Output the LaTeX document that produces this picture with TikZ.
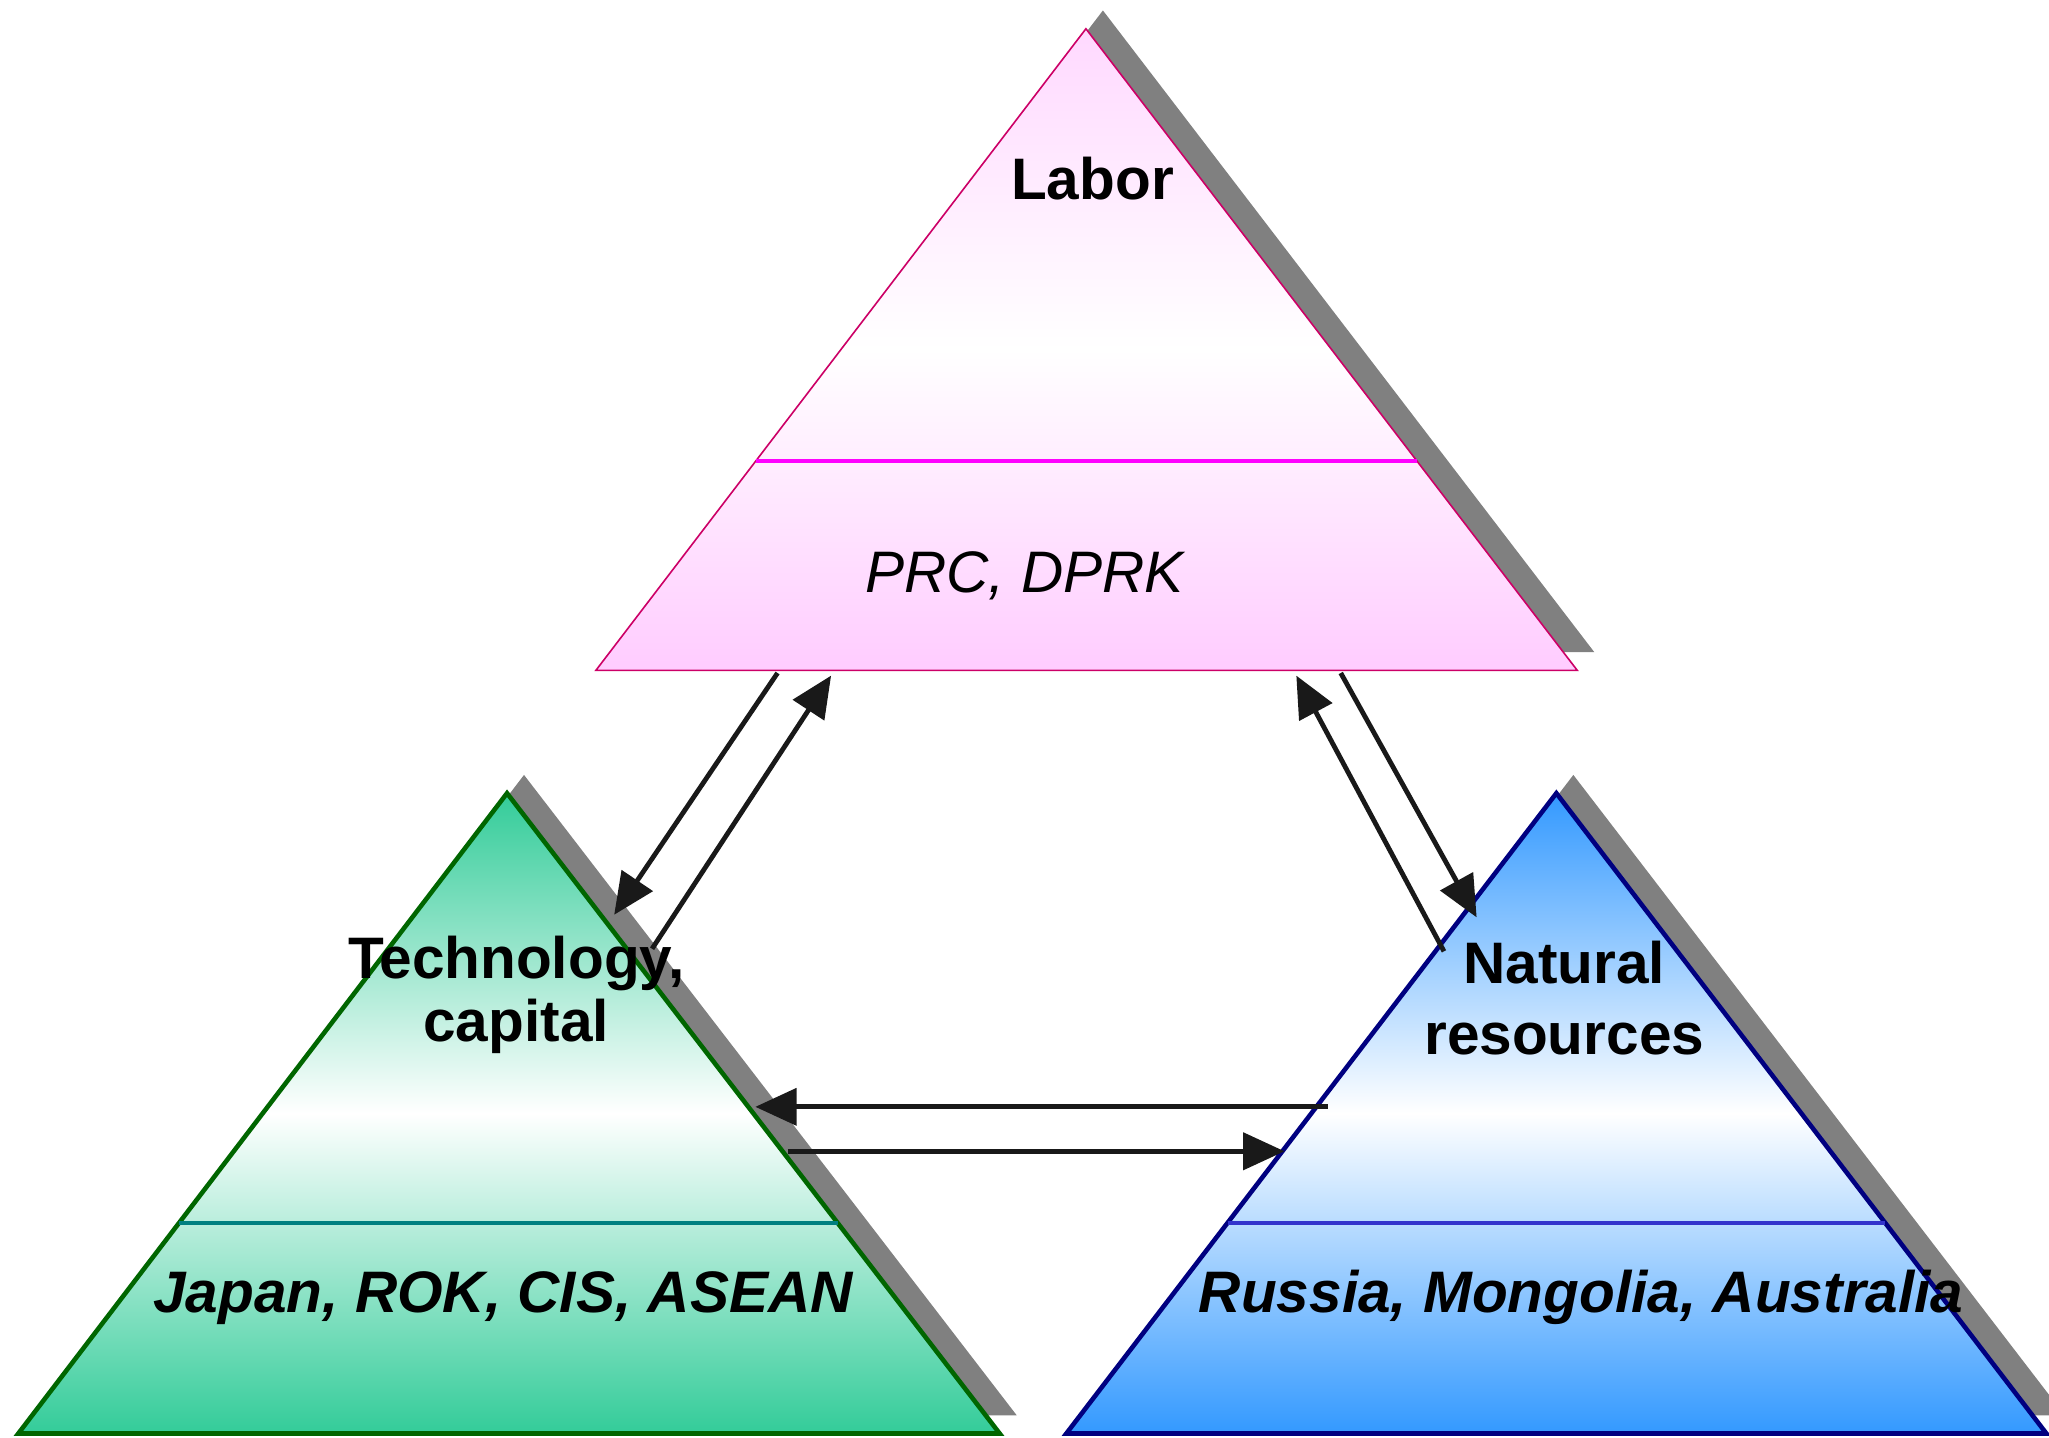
\documentclass[tikz,border=0pt]{standalone}
\usepackage{fontspec}
\setmainfont{Liberation Sans}
\usetikzlibrary{arrows.meta,calc}
\definecolor{shadowgray}{RGB}{128,128,128}
\definecolor{laborpink}{RGB}{255,204,255}
\definecolor{laborline}{RGB}{204,0,102}
\definecolor{labordiv}{RGB}{255,0,255}
\definecolor{techgreen}{RGB}{51,204,153}
\definecolor{techline}{RGB}{0,102,0}
\definecolor{techdiv}{RGB}{0,128,128}
\definecolor{natblue}{RGB}{51,153,255}
\definecolor{natline}{RGB}{0,0,128}
\definecolor{natdiv}{RGB}{51,51,204}

\begin{document}
\begin{tikzpicture}[x=0.02cm,y=-0.02cm,
  lbl/.style={font=\fontsize{25.5}{27.5}\selectfont\bfseries,align=center},
  cty/.style={font=\fontsize{25.5}{27.5}\selectfont\bfseries\itshape},
  flow/.style={-{Triangle[length=18pt,width=16pt]},line width=2.1pt,black!90}]
\useasboundingbox (0,0) rectangle (1568,1100);
% Draw the shadows
\fill[shadowgray] (844,8) -- (1220,499) -- (469,499) -- cycle;
\fill[shadowgray] (401,593) -- (778,1083) -- (27,1083) -- cycle;
\fill[shadowgray] (1204,593) -- (1580,1083) -- (829,1083) -- cycle;
% Corners of the triangles
\coordinate (labtop) at (831,22);
\coordinate (lableft) at (456,513);
\coordinate (labright) at (1207,513);
\coordinate (techtop) at (388,607);
\coordinate (techleft) at (14,1097);
\coordinate (techright) at (765,1097);
\coordinate (nattop) at (1191,607);
\coordinate (natleft) at (816,1097);
\coordinate (natright) at (1566,1097);
% Draw the triangles
\draw[laborline,line width=0.7pt,top color=laborpink!75!white,bottom color=laborpink,middle color=white]
  (labtop) -- (labright) -- (lableft) -- cycle;
\draw[techline,line width=2pt,top color=techgreen,bottom color=techgreen,middle color=white]
  (techtop) -- (techright) -- (techleft) -- cycle;
\draw[natline,line width=2pt,top color=natblue,bottom color=natblue,middle color=white]
  (nattop) -- (natright) -- (natleft) -- cycle;
% Draw the dividing lines
\draw[labordiv,line width=1.8pt] ($(labtop)!0.674!(lableft)$) -- ($(labtop)!0.674!(labright)$);
\draw[techdiv,line width=1.8pt] ($(techtop)!0.671!(techleft)$) -- ($(techtop)!0.671!(techright)$);
\draw[natdiv,line width=1.8pt] ($(nattop)!0.671!(natleft)$) -- ($(nattop)!0.671!(natright)$);
% Labels
\node[lbl] (labor) at (836,137) {Labor};
\node[font=\fontsize{25.5}{27.5}\selectfont\itshape] (laborcty) at (784,441) {PRC, DPRK};
\node[lbl] (tech) at (395,761) {Technology,\\capital};
\node[cty] (techcty) at (385,993) {Japan, ROK, CIS, ASEAN};
\node[lbl] (natres) at (1197,764) {Natural\\[3.5pt]resources};
\node[cty] (natcty) at (1210,993) {Russia, Mongolia, Australia};
% Arrow ends
\coordinate (labtech1) at (595,515);
\coordinate (techlab1) at (470,700);
\coordinate (techlab2) at (499,726);
\coordinate (labtech2) at (636,517);
\coordinate (labnat1) at (1026,515);
\coordinate (natlab1) at (1130,702);
\coordinate (natlab2) at (1105,728);
\coordinate (labnat2) at (992,517);
\coordinate (nattech1) at (1016,847);
\coordinate (technat1) at (578,847);
\coordinate (technat2) at (603,881);
\coordinate (nattech2) at (983,881);
% Draw the arrows
\draw[flow] (labtech1) -- (techlab1);
\draw[flow] (techlab2) -- (labtech2);
\draw[flow] (labnat1) -- (natlab1);
\draw[flow] (natlab2) -- (labnat2);
\draw[flow] (nattech1) -- (technat1);
\draw[flow] (technat2) -- (nattech2);
\end{tikzpicture}
\end{document}
